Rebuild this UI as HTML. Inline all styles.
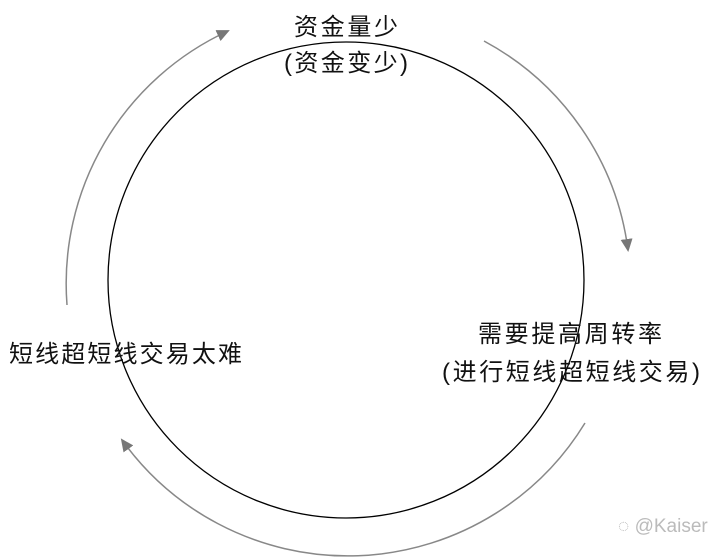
<!DOCTYPE html>
<html><head><meta charset="utf-8"><style>
html,body{margin:0;padding:0;background:#fff;}
svg{display:block;}
text{font-family:"Liberation Sans","Noto Sans CJK SC",sans-serif;fill:#111;}
</style></head><body>
<svg width="720" height="558" viewBox="0 0 720 558" xmlns="http://www.w3.org/2000/svg">
<defs>
<marker id="a" markerWidth="14" markerHeight="12" refX="11" refY="6" orient="auto" markerUnits="userSpaceOnUse">
<path d="M0,0 L13,6 L0,12 z" fill="#777"/>
</marker>
</defs>
<circle cx="346" cy="280" r="238" fill="none" stroke="#000" stroke-width="1.3"/>
<path d="M67,305 A278,278 0 0 1 228,31" fill="none" stroke="#888" stroke-width="1.5" marker-end="url(#a)"/>
<path d="M484,41 A278,278 0 0 1 628,250" fill="none" stroke="#888" stroke-width="1.5" marker-end="url(#a)"/>
<path d="M585,423 A278,278 0 0 1 122,440" fill="none" stroke="#888" stroke-width="1.5" marker-end="url(#a)"/>
<text x="346" y="35" font-size="24" text-anchor="middle" textLength="104">资金量少</text>
<text x="346" y="71" font-size="24" text-anchor="middle" textLength="124">(资金变少)</text>
<text x="9" y="362" font-size="24" textLength="233">短线超短线交易太难</text>
<text x="478" y="342" font-size="24" textLength="184">需要提高周转率</text>
<text x="442" y="380" font-size="24" textLength="258">(进行短线超短线交易)</text>
<text x="618" y="532" font-size="19" style="fill:#bbb">◌ @Kaiser</text>
</svg>
</body></html>
